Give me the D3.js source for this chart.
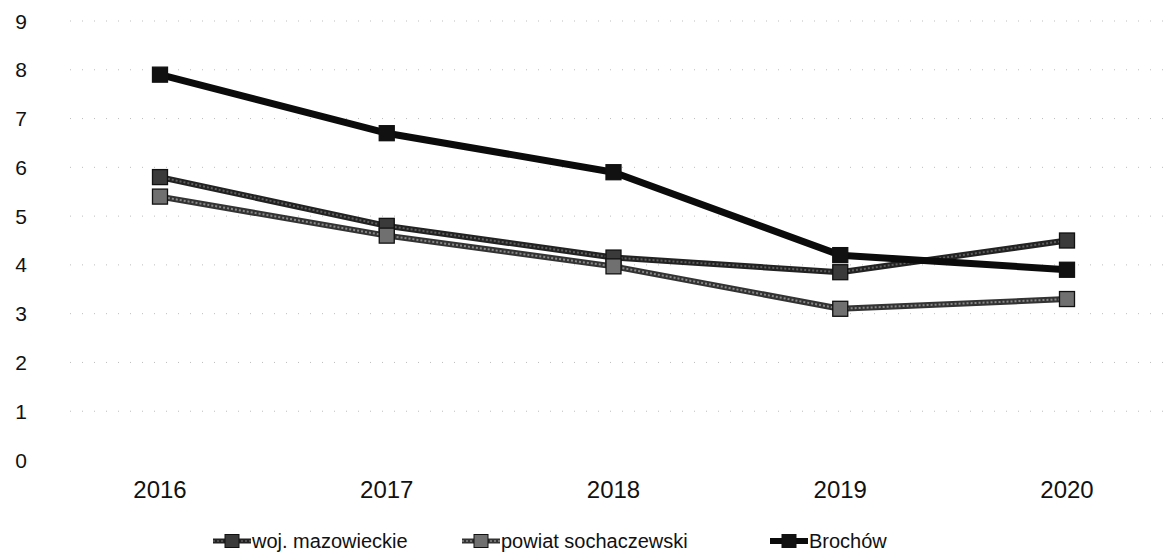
<!DOCTYPE html>
<html><head><meta charset="utf-8">
<script src="https://cdn.jsdelivr.net/npm/d3@7/dist/d3.min.js"></script>
<style>body{margin:0;background:#fff}svg{display:block}text{font-family:"Liberation Sans",Arial,sans-serif;fill:#111}</style>
</head><body><svg id="c" width="1174" height="553"></svg>
<script>
const years = ["2016","2017","2018","2019","2020"];
const yTicks = [0,1,2,3,4,5,6,7,8,9];
const seriesNames = ["woj. mazowieckie","powiat sochaczewski","Brochów"];
const mazowieckie = [5.8,4.8,4.15,3.85,4.5];
const sochaczewski = [5.4,4.6,3.97,3.1,3.3];
const brochow = [7.9,6.7,5.9,4.2,3.9];

const styles = [
  {line:"#222", inner:"#5e5e5e", w:6, marker:"#3a3a3a"},
  {line:"#333", inner:"#888", w:6, marker:"#707070"},
  {line:"#0b0b0b", inner:null, w:7, marker:"#111"}
];
const data = [mazowieckie, sochaczewski, brochow];

const svg = d3.select("#c");
const x = d3.scalePoint().domain(years).range([160,1067]);
const y = d3.scaleLinear().domain([0,9]).range([460,21]);

// grid
svg.append("g").selectAll("line").data(yTicks.filter(d=>d>0)).join("line")
  .attr("x1",70).attr("x2",1174).attr("y1",d=>y(d)).attr("y2",d=>y(d))
  .attr("stroke","#bdbdbd").attr("stroke-width",1).attr("stroke-dasharray","1,11");

// y labels
svg.append("g").selectAll("text").data(yTicks).join("text")
  .attr("x",21).attr("y",d=>y(d)).attr("dy","0.36em").attr("text-anchor","middle")
  .attr("font-size",21).text(d=>d);

// x labels
svg.append("g").selectAll("text").data(years).join("text")
  .attr("x",d=>x(d)).attr("y",489).attr("dy","0.36em").attr("text-anchor","middle")
  .attr("font-size",24).text(d=>d);

const line = d3.line().x((d,i)=>x(years[i])).y(d=>y(d));
data.forEach((s,k)=>{
  const st = styles[k];
  const g = svg.append("g");
  g.append("path").attr("d",line(s)).attr("fill","none").attr("stroke",st.line).attr("stroke-width",st.w).attr("stroke-linejoin","round");
  if(st.inner) g.append("path").attr("d",line(s)).attr("fill","none").attr("stroke",st.inner).attr("stroke-width",2).attr("stroke-dasharray","2,2");
  g.selectAll("rect").data(s).join("rect")
    .attr("x",(d,i)=>x(years[i])-7.5).attr("y",d=>y(d)-7.5).attr("width",15).attr("height",15)
    .attr("fill",st.marker).attr("stroke","#111").attr("stroke-width",1.3);
});

// legend
const legX = [213, 462, 770];
const legY = 541;
seriesNames.forEach((n,k)=>{
  const st = styles[k];
  const g = svg.append("g");
  g.append("line").attr("x1",legX[k]).attr("x2",legX[k]+38).attr("y1",legY).attr("y2",legY)
    .attr("stroke",st.line).attr("stroke-width",st.w-1);
  if(st.inner) g.append("line").attr("x1",legX[k]).attr("x2",legX[k]+38).attr("y1",legY).attr("y2",legY)
    .attr("stroke",st.inner).attr("stroke-width",1.5).attr("stroke-dasharray","2,2");
  g.append("rect").attr("x",legX[k]+12).attr("y",legY-6.5).attr("width",14).attr("height",13)
    .attr("fill",st.marker).attr("stroke","#111").attr("stroke-width",1);
  g.append("text").attr("x",legX[k]+39).attr("y",legY).attr("dy","0.36em").attr("font-size",20).text(n);
});
</script></body></html>
